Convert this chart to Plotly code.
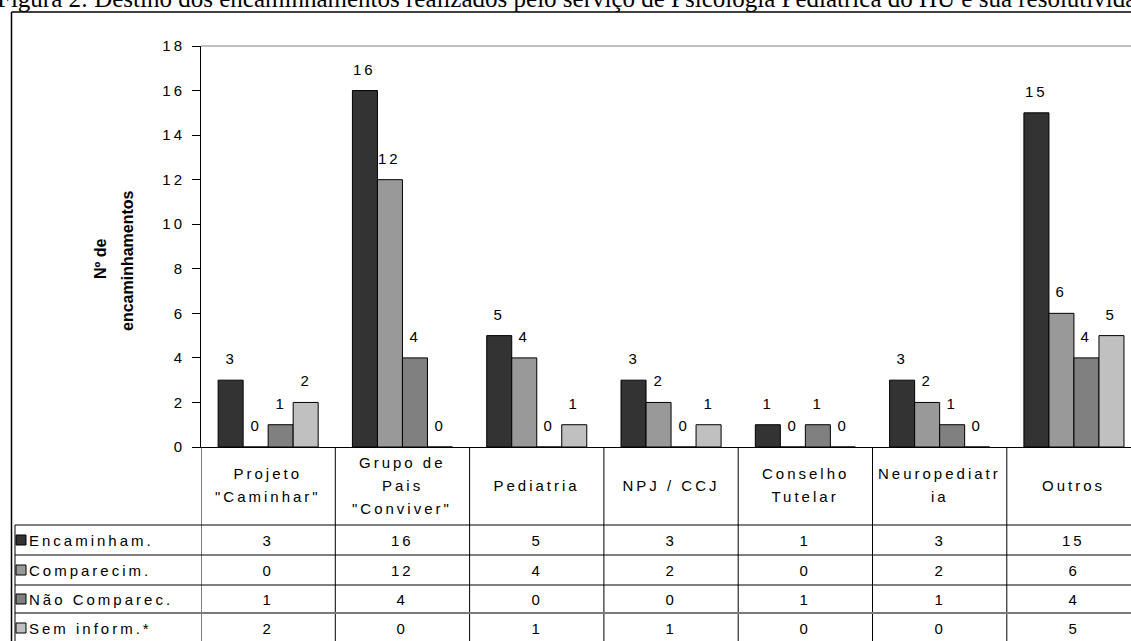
import plotly.graph_objects as go

# ---- data -------------------------------------------------------------
categorias = ["Projeto \"Caminhar\"", "Grupo de Pais \"Conviver\"", "Pediatria",
              "NPJ / CCJ", "Conselho Tutelar", "Neuropediatria", "Outros"]
rotulos_tabela = [["Projeto", "\"Caminhar\""], ["Grupo de", "Pais", "\"Conviver\""], ["Pediatria"],
                  ["NPJ / CCJ"], ["Conselho", "Tutelar"], ["Neuropediatr", "ia"], ["Outros"]]
series = ["Encaminham.", "Comparecim.", "Não Comparec.", "Sem inform.*"]
encaminham = [3, 16, 5, 3, 1, 3, 15]
comparecim = [0, 12, 4, 2, 0, 2, 6]
nao_comparec = [1, 4, 0, 0, 1, 1, 4]
sem_inform = [2, 0, 1, 1, 0, 0, 5]
valores = [encaminham, comparecim, nao_comparec, sem_inform]
cores = ["#333333", "#999999", "#808080", "#c0c0c0"]
y_ticks = list(range(0, 19, 2))

titulo = ("Figura 2: Destino dos encaminhamentos realizados pelo serviço de "
          "Psicologia Pediátrica do HU e sua resolutividade")

# ---- geometry (pixels) -------------------------------------------------
W, H = 1131, 641
LEFT, TOP, ZERO_Y = 201, 46, 447
PLOT_W = W - LEFT
PLOT_H = ZERO_Y - TOP
CAT_PX = 134.3
BARGAP = 0.255
BAR_PX = CAT_PX * (1 - BARGAP) / len(series)
ROW_LINES = [525, 555, 585, 613]
ROW_CENTERS = [540, 570, 599, 628]
HEADER_CENTER = 485
HEADER_STEP = 23
SANS = "Liberation Sans, Arial, sans-serif"


def px_x(p):
    return (p - LEFT) / PLOT_W


def px_y(p):
    return (ZERO_Y - p) / PLOT_H


fig = go.Figure()
for nome, vals, cor in zip(series, valores, cores):
    fig.add_trace(go.Bar(
        x=categorias, y=vals, name=nome,
        marker=dict(color=cor, line=dict(color="black", width=1)),
        showlegend=False, hoverinfo="skip",
    ))

anns = []
# figure caption (runs past the page edges)
anns.append(dict(text=titulo, xref="paper", yref="paper", x=px_x(-5), y=px_y(14),
                 xanchor="left", yanchor="bottom", showarrow=False,
                 font=dict(family="Liberation Serif, Times New Roman, serif", size=25, color="black")))
# y axis title, two lines
anns.append(dict(text="<b>Nº de</b>", xref="paper", yref="paper", x=px_x(100), y=px_y(259),
                 textangle=-90, showarrow=False, xanchor="center", yanchor="middle",
                 font=dict(family=SANS, size=16, color="black")))
anns.append(dict(text="<b>encaminhamentos</b>", xref="paper", yref="paper", x=px_x(127), y=px_y(261),
                 textangle=-90, showarrow=False, xanchor="center", yanchor="middle",
                 font=dict(family=SANS, size=16, color="black")))

# value labels above the bars
for j, vals in enumerate(valores):
    for i, v in enumerate(vals):
        anns.append(dict(text=str(v), xref="x", yref="y", x=i, y=v,
                         xshift=(j - 1.5) * BAR_PX, yshift=11,
                         xanchor="center", yanchor="bottom", showarrow=False,
                         font=dict(family=SANS, size=15, color="black")))

# data table: header row, one annotation per text line
for i, linhas in enumerate(rotulos_tabela):
    n = len(linhas)
    for k, linha in enumerate(linhas):
        cy = HEADER_CENTER + (k - (n - 1) / 2) * HEADER_STEP
        anns.append(dict(text=linha, xref="x", yref="paper", x=i, y=px_y(cy),
                         xanchor="center", yanchor="middle", showarrow=False,
                         font=dict(family=SANS, size=15, color="black")))
# data table: rows
shapes = []
for r, (nome, vals, cor) in enumerate(zip(series, valores, cores)):
    cy = ROW_CENTERS[r]
    anns.append(dict(text=nome, xref="paper", yref="paper", x=px_x(27), y=px_y(cy),
                     xanchor="left", yanchor="middle", showarrow=False, align="left",
                     font=dict(family=SANS, size=15, color="black")))
    shapes.append(dict(type="rect", xref="paper", yref="paper",
                       x0=px_x(16), x1=px_x(26), y0=px_y(cy + 5), y1=px_y(cy - 5),
                       fillcolor=cor, line=dict(color="black", width=1)))
    for i, v in enumerate(vals):
        anns.append(dict(text=str(v), xref="x", yref="paper", x=i, y=px_y(cy),
                         xanchor="center", yanchor="middle", showarrow=False,
                         font=dict(family=SANS, size=15, color="black")))

# table grid
for k in range(len(categorias)):
    shapes.append(dict(type="line", xref="x", yref="paper", x0=k - 0.5, x1=k - 0.5,
                       y0=px_y(ZERO_Y), y1=px_y(H + 10), line=dict(color="black", width=1)))
for k, yl in enumerate(ROW_LINES):
    shapes.append(dict(type="line", xref="paper", yref="paper", x0=px_x(15), x1=1.02,
                       y0=px_y(yl), y1=px_y(yl),
                       line=dict(color="#7a7a7a" if k == 3 else "black", width=2 if k == 3 else 1)))
shapes.append(dict(type="line", xref="paper", yref="paper", x0=px_x(15), x1=px_x(15),
                   y0=px_y(ROW_LINES[0]), y1=px_y(H + 10), line=dict(color="black", width=1)))
# plot-area top border
shapes.append(dict(type="line", xref="paper", yref="paper", x0=0, x1=1.02, y0=1, y1=1,
                   line=dict(color="#808080", width=1)))
# outer frame
shapes.append(dict(type="line", xref="paper", yref="paper", x0=px_x(11.5), x1=px_x(11.5),
                   y0=px_y(12), y1=px_y(H + 10), line=dict(color="black", width=1.5)))
shapes.append(dict(type="line", xref="paper", yref="paper", x0=px_x(11.5), x1=1.02,
                   y0=px_y(12), y1=px_y(12), line=dict(color="black", width=1.5)))

fig.update_layout(
    width=W, height=H,
    margin=dict(l=LEFT, r=0, t=TOP, b=H - ZERO_Y, pad=0),
    paper_bgcolor="white", plot_bgcolor="white",
    barmode="group", bargap=BARGAP, bargroupgap=0,
    xaxis=dict(range=[-0.5, -0.5 + PLOT_W / CAT_PX], showticklabels=False, ticks="",
               showline=True, linecolor="black", linewidth=1, showgrid=False, zeroline=False,
               fixedrange=True),
    yaxis=dict(range=[0, 18], tickvals=y_ticks, ticks="outside", ticklen=8, tickcolor="black",
               ticklabelstandoff=4,
               showline=True, linecolor="black", linewidth=1, showgrid=False, zeroline=False,
               tickfont=dict(family=SANS, size=15, color="black"), fixedrange=True),
    annotations=anns, shapes=shapes,
)

spacing_css = (
    "var s=document.createElement('style');"
    "s.textContent='.main-svg text{letter-spacing:3px}"
    " g.annotation[data-index=\"0\"] text, g.annotation[data-index=\"1\"] text,"
    " g.annotation[data-index=\"2\"] text{letter-spacing:0}';"
    "document.head.appendChild(s);"
)
fig.write_html("out.html", config={"displayModeBar": False}, post_script=spacing_css)
